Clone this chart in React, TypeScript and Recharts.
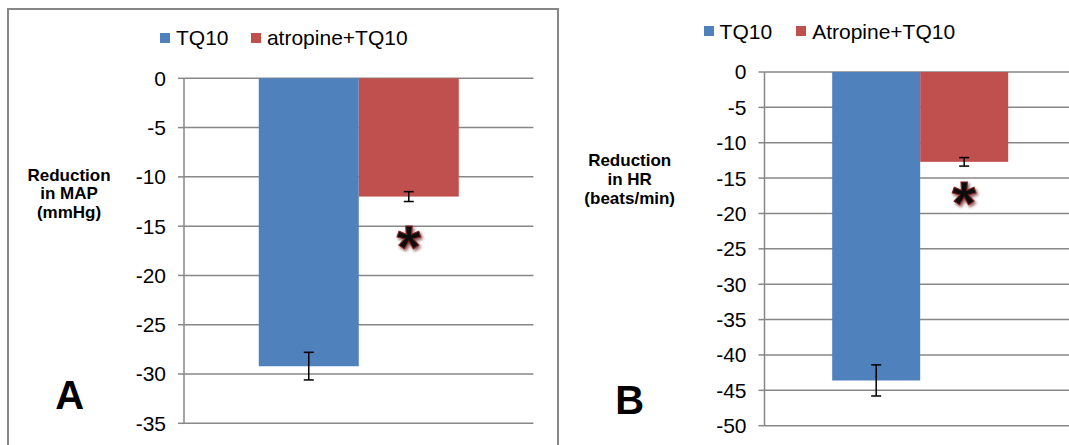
import React from "react";
import { BarChart, Bar, XAxis, YAxis, CartesianGrid, ErrorBar, Legend } from "recharts";

const FONT = "'Liberation Sans', Arial, sans-serif";
const BLUE = "#4f81bd";
const RED = "#c0504d";
const GRID = "#878787";

// panel A: reduction in MAP
const groups = ["group"];
const mapTQ10 = [-29.2];
const mapTQ10Err = [1.4];
const mapAtropine = [-12.0];
const mapAtropineErr = [0.5];
const mapStar = [-16.0];
const mapTicks = [0, -5, -10, -15, -20, -25, -30, -35];
const mapSeries = ["TQ10", "atropine+TQ10"];

// panel B: reduction in HR
const hrTQ10 = [-43.6];
const hrTQ10Err = [2.2];
const hrAtropine = [-12.7];
const hrAtropineErr = [0.6];
const hrStar = [-16.9];
const hrTicks = [0, -5, -10, -15, -20, -25, -30, -35, -40, -45, -50];
const hrSeries = ["TQ10", "Atropine+TQ10"];

const mapData = groups.map((g, i) => ({
  name: g,
  tq10: mapTQ10[i],
  tq10Err: mapTQ10Err[i],
  atr: mapAtropine[i],
  atrErr: mapAtropineErr[i],
  star: mapStar[i],
}));

const hrData = groups.map((g, i) => ({
  name: g,
  tq10: hrTQ10[i],
  tq10Err: hrTQ10Err[i],
  atr: hrAtropine[i],
  atrErr: hrAtropineErr[i],
  star: hrStar[i],
}));

// red bar that also carries the significance asterisk below it
function StarBar(props: any) {
  const { x, y, width, height, fill, payload } = props;
  const top = Math.min(y, y + height);
  const span = Math.abs(height);
  const perUnit = span / Math.abs(payload.atr);
  const sy = top + Math.abs(payload.star) * perUnit;
  const cx = x + width / 2;
  const fs = 62;
  return (
    <g>
      <rect x={x} y={top} width={width} height={span} fill={fill} />
      <text
        x={cx}
        y={sy + fs * 0.52}
        textAnchor="middle"
        fontFamily={FONT}
        fontWeight="bold"
        fontSize={fs}
        fill="#111"
        stroke="#8b2323"
        strokeWidth={1}
        filter="url(#starShadow)"
      >
        *
      </text>
    </g>
  );
}

function LegendRow({ names, gap }: { names: string[]; gap: number }) {
  const colors = [BLUE, RED];
  return (
    <div style={{ display: "flex", alignItems: "center", fontFamily: FONT, fontSize: 21, lineHeight: "21px", color: "#000" }}>
      {names.map((n, i) => (
        <div key={n} style={{ display: "flex", alignItems: "center", marginRight: gap }}>
          <span style={{ width: 10, height: 10, background: colors[i], marginRight: 6, display: "inline-block" }} />
          <span style={{ whiteSpace: "nowrap" }}>{n}</span>
        </div>
      ))}
    </div>
  );
}

type PanelProps = {
  data: any[];
  ticks: number[];
  names: string[];
  width: number;
  axisWidth: number;
  margin: { top: number; right: number; bottom: number; left: number };
  gap: string;
  legendPos: { left: number; top: number; gap: number };
};

function Panel({ data, ticks, names, width, axisWidth, margin, gap, legendPos }: PanelProps) {
  return (
    <BarChart width={width} height={445} data={data} margin={margin} barCategoryGap={gap} barGap={0}>
      <defs>
        <filter id="starShadow" x="-50%" y="-50%" width="200%" height="200%">
          <feDropShadow dx="1.5" dy="2" stdDeviation="1.5" floodColor="#5a1010" floodOpacity="0.7" />
        </filter>
      </defs>
      <CartesianGrid vertical={false} stroke={GRID} strokeWidth={1.5} />
      <XAxis dataKey="name" hide />
      <YAxis
        width={axisWidth}
        domain={[ticks[ticks.length - 1], 0]}
        ticks={ticks}
        interval={0}
        tickSize={6}
        tickMargin={12}
        axisLine={{ stroke: GRID, strokeWidth: 1.5 }}
        tickLine={{ stroke: GRID, strokeWidth: 1.5 }}
        tick={{ fontSize: 21, fill: "#000", fontFamily: FONT }}
      />
      <Legend
        verticalAlign="middle"
        layout="horizontal"
        wrapperStyle={{ left: legendPos.left, top: legendPos.top, width: 420 }}
        content={() => <LegendRow names={names} gap={legendPos.gap} />}
      />
      <Bar dataKey="tq10" name={names[0]} fill={BLUE} isAnimationActive={false}>
        <ErrorBar dataKey="tq10Err" width={5} stroke="#000" strokeWidth={1.5} />
      </Bar>
      <Bar dataKey="atr" name={names[1]} fill={RED} isAnimationActive={false} shape={(p: any) => <StarBar {...p} />}>
        <ErrorBar dataKey="atrErr" width={5} stroke="#000" strokeWidth={1.5} />
      </Bar>
    </BarChart>
  );
}

const titleStyle: React.CSSProperties = {
  position: "absolute",
  width: 140,
  textAlign: "center",
  fontFamily: FONT,
  fontWeight: "bold",
  fontSize: 17,
  lineHeight: "18.7px",
  color: "#000",
};

const letterStyle: React.CSSProperties = {
  position: "absolute",
  width: 60,
  textAlign: "center",
  fontFamily: FONT,
  fontWeight: "bold",
  fontSize: 40,
  lineHeight: "40px",
  color: "#000",
};

export default function App() {
  return (
    <div style={{ position: "absolute", left: 0, top: 0, width: 1069, height: 445, overflow: "hidden", background: "#fff" }}>
      <div style={{ position: "absolute", left: 7, top: 8, width: 552, height: 460, border: `2px solid ${GRID}`, boxSizing: "border-box" }} />

      <div style={{ position: "absolute", left: 0, top: 0 }}>
        <Panel
          data={mapData}
          ticks={mapTicks}
          names={mapSeries}
          width={560}
          axisWidth={184}
          margin={{ top: 78.3, right: 26.6, bottom: 21.7, left: 0 }}
          gap="21.4%"
          legendPos={{ left: 160, top: 27.2, gap: 22.4 }}
        />
      </div>
      <div style={{ ...titleStyle, left: 69 - 70, top: 166.7 }}>
        Reduction
        <br />
        in MAP
        <br />
        (mmHg)
      </div>
      <div style={{ ...letterStyle, left: 69.7 - 30, top: 375.1 }}>A</div>

      <div style={{ position: "absolute", left: 560, top: 0 }}>
        <Panel
          data={hrData}
          ticks={hrTicks}
          names={hrSeries}
          width={520}
          axisWidth={204.5}
          margin={{ top: 72, right: 5, bottom: 19.3, left: 0 }}
          gap="21.8%"
          legendPos={{ left: 143.6, top: 20.5, gap: 24 }}
        />
      </div>
      <div style={{ ...titleStyle, left: 629.7 - 70, top: 152.3 }}>
        Reduction
        <br />
        in HR
        <br />
        (beats/min)
      </div>
      <div style={{ ...letterStyle, left: 629.7 - 30, top: 380.1 }}>B</div>
    </div>
  );
}
